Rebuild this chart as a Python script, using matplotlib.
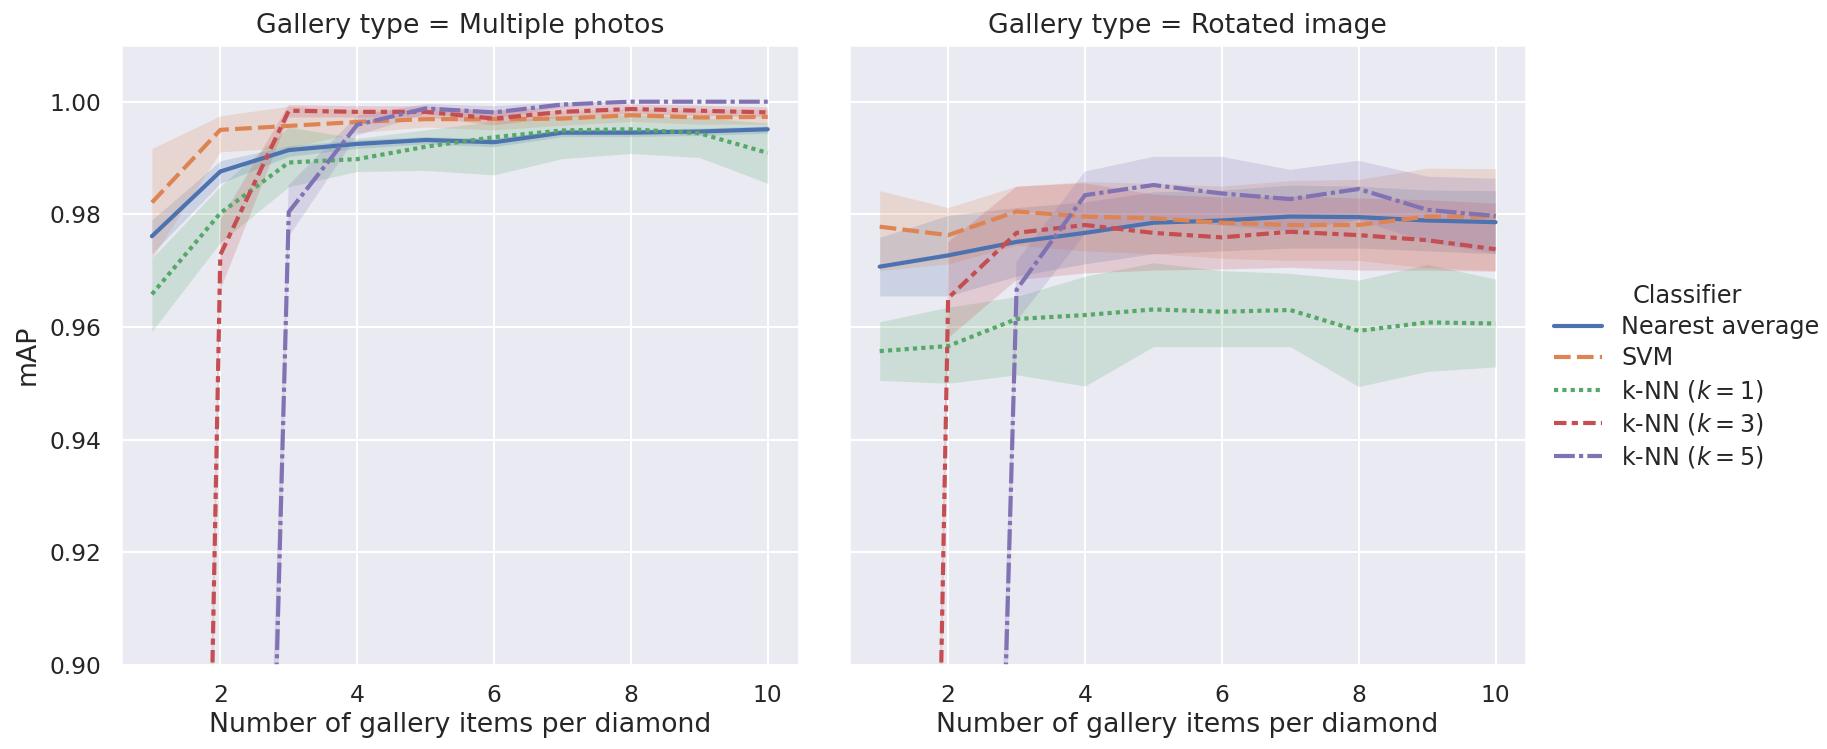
import numpy as np
import matplotlib
matplotlib.use("Agg")
import matplotlib.pyplot as plt
import seaborn as sns
from matplotlib.lines import Line2D

sns.set_theme(style="darkgrid", context="notebook")
plt.rcParams['font.family'] = ['DejaVu Sans']

# ---- data ----
x_items = [1, 2, 3, 4, 5, 6, 7, 8, 9, 10]
classifiers = ["Nearest average", "SVM", "k-NN ($k=1$)", "k-NN ($k=3$)", "k-NN ($k=5$)"]
gallery_types = ["Multiple photos", "Rotated image"]

# Multiple photos
mp_nearest = [0.9761, 0.9876, 0.9914, 0.9925, 0.9932, 0.9928, 0.9945, 0.9945, 0.9947, 0.9951]
mp_nearest_lo = [0.9730, 0.9855, 0.9903, 0.9917, 0.9925, 0.9920, 0.9938, 0.9938, 0.9940, 0.9944]
mp_nearest_hi = [0.9790, 0.9895, 0.9922, 0.9932, 0.9938, 0.9935, 0.9951, 0.9951, 0.9953, 0.9957]

mp_svm = [0.9821, 0.9950, 0.9957, 0.9964, 0.9969, 0.9969, 0.9970, 0.9976, 0.9972, 0.9973]
mp_svm_lo = [0.9722, 0.9911, 0.9918, 0.9945, 0.9955, 0.9950, 0.9958, 0.9965, 0.9960, 0.9960]
mp_svm_hi = [0.9917, 0.9975, 0.9992, 0.9985, 0.9985, 0.9986, 0.9984, 0.9988, 0.9985, 0.9987]

mp_knn1 = [0.9658, 0.9802, 0.9892, 0.9898, 0.9920, 0.9937, 0.9949, 0.9951, 0.9944, 0.9909]
mp_knn1_lo = [0.9592, 0.9750, 0.9849, 0.9876, 0.9878, 0.9870, 0.9899, 0.9908, 0.9901, 0.9855]
mp_knn1_hi = [0.9722, 0.9850, 0.9955, 0.9935, 0.9950, 0.9965, 0.9975, 0.9977, 0.9972, 0.9962]

mp_knn3 = [0.34, 0.9728, 0.9984, 0.9982, 0.9982, 0.9970, 0.9982, 0.9987, 0.9984, 0.9981]
mp_knn3_lo = [0.30, 0.9665, 0.9972, 0.9972, 0.9972, 0.9958, 0.9972, 0.9978, 0.9975, 0.9972]
mp_knn3_hi = [0.38, 0.9790, 0.9994, 0.9992, 0.9992, 0.9984, 0.9992, 0.9995, 0.9993, 0.9990]

mp_knn5 = [0.30, 0.523, 0.9804, 0.9959, 0.9988, 0.9981, 0.9995, 1.0000, 1.0000, 1.0000]
mp_knn5_lo = [0.25, 0.45, 0.9760, 0.9940, 0.9978, 0.9970, 0.9990, 0.9999, 0.9999, 0.9999]
mp_knn5_hi = [0.35, 0.60, 0.9852, 0.9975, 0.9996, 0.9992, 0.9999, 1.0000, 1.0000, 1.0000]

# Rotated image
ri_nearest = [0.9707, 0.9727, 0.9751, 0.9767, 0.9785, 0.9789, 0.9796, 0.9795, 0.9789, 0.9786]
ri_nearest_lo = [0.9655, 0.9655, 0.9690, 0.9712, 0.9730, 0.9735, 0.9740, 0.9740, 0.9735, 0.9730]
ri_nearest_hi = [0.9759, 0.9798, 0.9812, 0.9822, 0.9840, 0.9843, 0.9852, 0.9850, 0.9843, 0.9842]

ri_svm = [0.9778, 0.9763, 0.9805, 0.9796, 0.9793, 0.9785, 0.9781, 0.9781, 0.9796, 0.9796]
ri_svm_lo = [0.9700, 0.9712, 0.9745, 0.9735, 0.9730, 0.9722, 0.9718, 0.9718, 0.9705, 0.9700]
ri_svm_hi = [0.9842, 0.9812, 0.9850, 0.9858, 0.9855, 0.9850, 0.9860, 0.9862, 0.9882, 0.9881]

ri_knn1 = [0.9557, 0.9566, 0.9614, 0.9621, 0.9631, 0.9627, 0.9630, 0.9593, 0.9608, 0.9606]
ri_knn1_lo = [0.9505, 0.9500, 0.9515, 0.9495, 0.9565, 0.9565, 0.9565, 0.9494, 0.9521, 0.9529]
ri_knn1_hi = [0.9609, 0.9635, 0.9654, 0.9690, 0.9714, 0.9700, 0.9695, 0.9683, 0.9711, 0.9685]

ri_knn3 = [0.315, 0.9651, 0.9767, 0.9781, 0.9767, 0.9759, 0.9769, 0.9763, 0.9754, 0.9738]
ri_knn3_lo = [0.28, 0.9580, 0.9683, 0.9695, 0.9700, 0.9702, 0.9705, 0.9700, 0.9700, 0.9698]
ri_knn3_hi = [0.35, 0.9750, 0.9849, 0.9855, 0.9835, 0.9830, 0.9832, 0.9828, 0.9825, 0.9819]

ri_knn5 = [0.30, 0.535, 0.9666, 0.9834, 0.9852, 0.9837, 0.9827, 0.9845, 0.9808, 0.9797]
ri_knn5_lo = [0.25, 0.47, 0.9610, 0.9765, 0.9790, 0.9780, 0.9770, 0.9790, 0.9750, 0.9730]
ri_knn5_hi = [0.35, 0.60, 0.9716, 0.9876, 0.9902, 0.9902, 0.9879, 0.9895, 0.9867, 0.9863]

y_ticks = [0.90, 0.92, 0.94, 0.96, 0.98, 1.00]
x_ticks = [2, 4, 6, 8, 10]

panels = [
    [(mp_nearest, mp_nearest_lo, mp_nearest_hi), (mp_svm, mp_svm_lo, mp_svm_hi),
     (mp_knn1, mp_knn1_lo, mp_knn1_hi), (mp_knn3, mp_knn3_lo, mp_knn3_hi),
     (mp_knn5, mp_knn5_lo, mp_knn5_hi)],
    [(ri_nearest, ri_nearest_lo, ri_nearest_hi), (ri_svm, ri_svm_lo, ri_svm_hi),
     (ri_knn1, ri_knn1_lo, ri_knn1_hi), (ri_knn3, ri_knn3_lo, ri_knn3_hi),
     (ri_knn5, ri_knn5_lo, ri_knn5_hi)],
]

colors = sns.color_palette("deep", 5)
dashes = [None, (4, 1.5), (1, 1), (3, 1.25, 1.5, 1.25), (5, 1, 1, 1)]
LW = 2.0

W, H = 1827, 749
DPI = 150
fig = plt.figure(figsize=(W / DPI, H / DPI), dpi=DPI)

ax_bottom = (749 - 664.7) / H
ax_height = (664.7 - 45.4) / H
ax_w = 677.4 / W
lefts = [121.1 / W, 848.9 / W]

axes = []
titles, xlabels = [], []
ylab = None
for i, gt in enumerate(gallery_types):
    ax = fig.add_axes([lefts[i], ax_bottom, ax_w, ax_height])
    axes.append(ax)
    for j, (mean, lo, hi) in enumerate(panels[i]):
        ax.fill_between(x_items, lo, hi, color=colors[j], alpha=0.2, linewidth=0)
        line, = ax.plot(x_items, mean, color=colors[j], lw=LW)
        if dashes[j] is not None:
            line.set_dashes(dashes[j])
    ax.set_ylim(0.90, 1.01)
    ax.set_xlim(0.55, 10.45)
    ax.set_xticks(x_ticks)
    ax.set_yticks(y_ticks)
    titles.append(ax.set_title(f"Gallery type = {gt}", fontsize=12.5))
    xlabels.append(ax.set_xlabel("Number of gallery items per diamond", fontsize=12.5, labelpad=2))
    if i == 0:
        ylab = ax.set_ylabel("mAP", fontsize=12.5)
        ax.set_yticklabels([f"{v:.2f}" for v in y_ticks])
    else:
        ax.set_yticklabels([])
        ax.tick_params(axis='y', length=0)

handles = []
for j, name in enumerate(classifiers):
    h = Line2D([0], [0], color=colors[j], lw=LW)
    if dashes[j] is not None:
        h.set_dashes(dashes[j])
    handles.append(h)

# ---- fit font sizes to the reference pixel widths ----
fig.canvas.draw()
r = fig.canvas.get_renderer()

def fit(t, target):
    w = t.get_window_extent(r).width
    return t.get_fontsize() * target / w

fs_title = fit(titles[0], 410)
fs_xlabel = fit(xlabels[0], 504)
tick0 = axes[0].get_yticklabels()[4]
fs_tick = fit(tick0, 52)
for t in titles:
    t.set_fontsize(fs_title)
for t in xlabels:
    t.set_fontsize(fs_xlabel)
ylab.set_fontsize(fs_xlabel)
for ax in axes:
    ax.tick_params(labelsize=fs_tick)

leg = fig.legend(handles, classifiers, title="Classifier", loc="center left",
                 bbox_to_anchor=(1533 / W, 1 - 376 / H), frameon=False,
                 fontsize=11, title_fontsize=12)
fig.canvas.draw()
texts = leg.get_texts()
fs_leg = fit(texts[0], 198)
fs_legt = fit(leg.get_title(), 110)
leg.remove()
leg = fig.legend(handles, classifiers, title="Classifier", loc="center left",
                 bbox_to_anchor=(1533 / W, 1 - 377 / H), frameon=False,
                 fontsize=fs_leg, title_fontsize=fs_legt, labelspacing=0.3)

fig.savefig("out.png", dpi=DPI)
